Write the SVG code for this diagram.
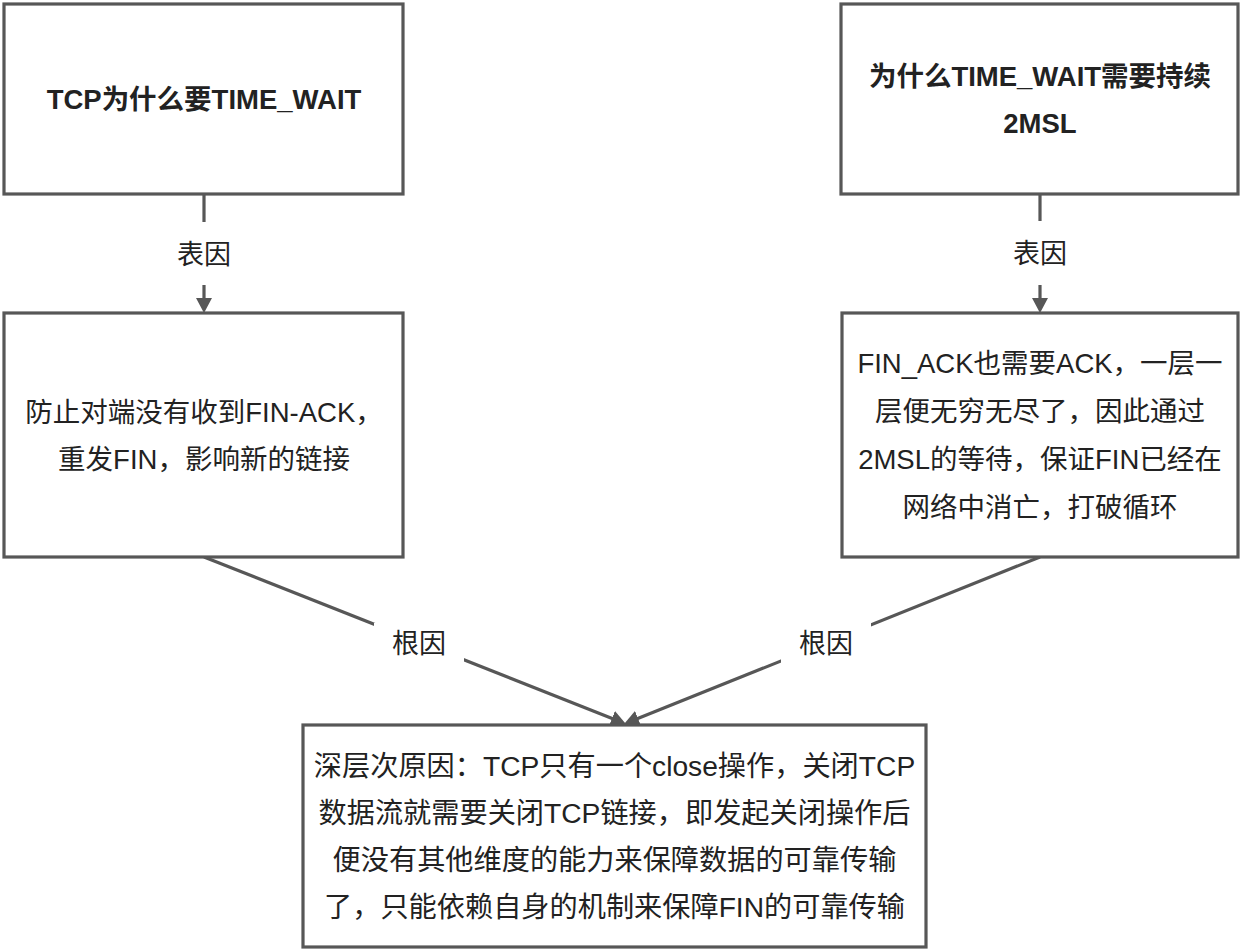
<svg xmlns="http://www.w3.org/2000/svg" width="1244" height="950" viewBox="0 0 1244 950">
<style>
.box{fill:#ffffff;stroke:#575757;stroke-width:3.2}
.t{font-family:"Liberation Sans","Noto Sans CJK SC",sans-serif;font-size:27.5px;fill:#222222;text-anchor:middle}
.w{font-size:28.2px}
.b{font-weight:bold}
.lbl{font-family:"Liberation Sans","Noto Sans CJK SC",sans-serif;font-size:27px;fill:#222222;text-anchor:middle}
.edge{stroke:#575757;stroke-width:3.2;fill:none}
.bg{fill:#ffffff}
</style>
<defs>
<marker id="arr" viewBox="0 0 15 16" refX="7" refY="8" markerWidth="15" markerHeight="16" orient="auto" markerUnits="userSpaceOnUse">
<path d="M0,0 L15,8 L0,16 Z" fill="#575757"/>
</marker>
</defs>
<rect width="1244" height="950" fill="#ffffff"/>

<g id="connectors">
<line class="edge" x1="204" y1="194" x2="204" y2="305" marker-end="url(#arr)"/>
<rect class="bg" x="174" y="222" width="60" height="63"/>
<text class="lbl" x="204" y="264">表因</text>

<line class="edge" x1="1040" y1="194" x2="1040" y2="305" marker-end="url(#arr)"/>
<rect class="bg" x="1010" y="221" width="60" height="64"/>
<text class="lbl" x="1040" y="263">表因</text>

<line class="edge" x1="204" y1="557" x2="618.5" y2="721" marker-end="url(#arr)"/>
<rect class="bg" x="374" y="623" width="90" height="40"/>
<text class="lbl" x="419" y="653">根因</text>

<line class="edge" x1="1040" y1="557" x2="631.5" y2="721" marker-end="url(#arr)"/>
<rect class="bg" x="781" y="623" width="90" height="40"/>
<text class="lbl" x="826" y="653">根因</text>
</g>

<g id="n1">
<rect class="box" x="4" y="4" width="399" height="190"/>
<text class="t b" x="204" y="109">TCP为什么要TIME_WAIT</text>
</g>

<g id="n2">
<rect class="box" x="841" y="4" width="397" height="190"/>
<text class="t b" x="1040" y="86">为什么TIME_WAIT需要持续</text>
<text class="t b" x="1040" y="133">2MSL</text>
</g>

<g id="n3">
<rect class="box" x="4" y="313" width="399" height="244"/>
<text class="t" x="204" y="422">防止对端没有收到FIN-ACK，</text>
<text class="t" x="204" y="469">重发FIN，影响新的链接</text>
</g>

<g id="n4">
<rect class="box" x="842" y="313" width="396" height="244"/>
<text class="t" x="1040" y="373">FIN_ACK也需要ACK，一层一</text>
<text class="t" x="1040" y="421">层便无穷无尽了，因此通过</text>
<text class="t" x="1040" y="469">2MSL的等待，保证FIN已经在</text>
<text class="t" x="1040" y="517">网络中消亡，打破循环</text>
</g>

<g id="n5">
<rect class="box" x="303" y="725" width="623" height="222"/>
<text class="t w" x="614.5" y="776">深层次原因：TCP只有一个close操作，关闭TCP</text>
<text class="t w" x="614.5" y="823">数据流就需要关闭TCP链接，即发起关闭操作后</text>
<text class="t w" x="614.5" y="870">便没有其他维度的能力来保障数据的可靠传输</text>
<text class="t w" x="614.5" y="917">了，只能依赖自身的机制来保障FIN的可靠传输</text>
</g>
</svg>
